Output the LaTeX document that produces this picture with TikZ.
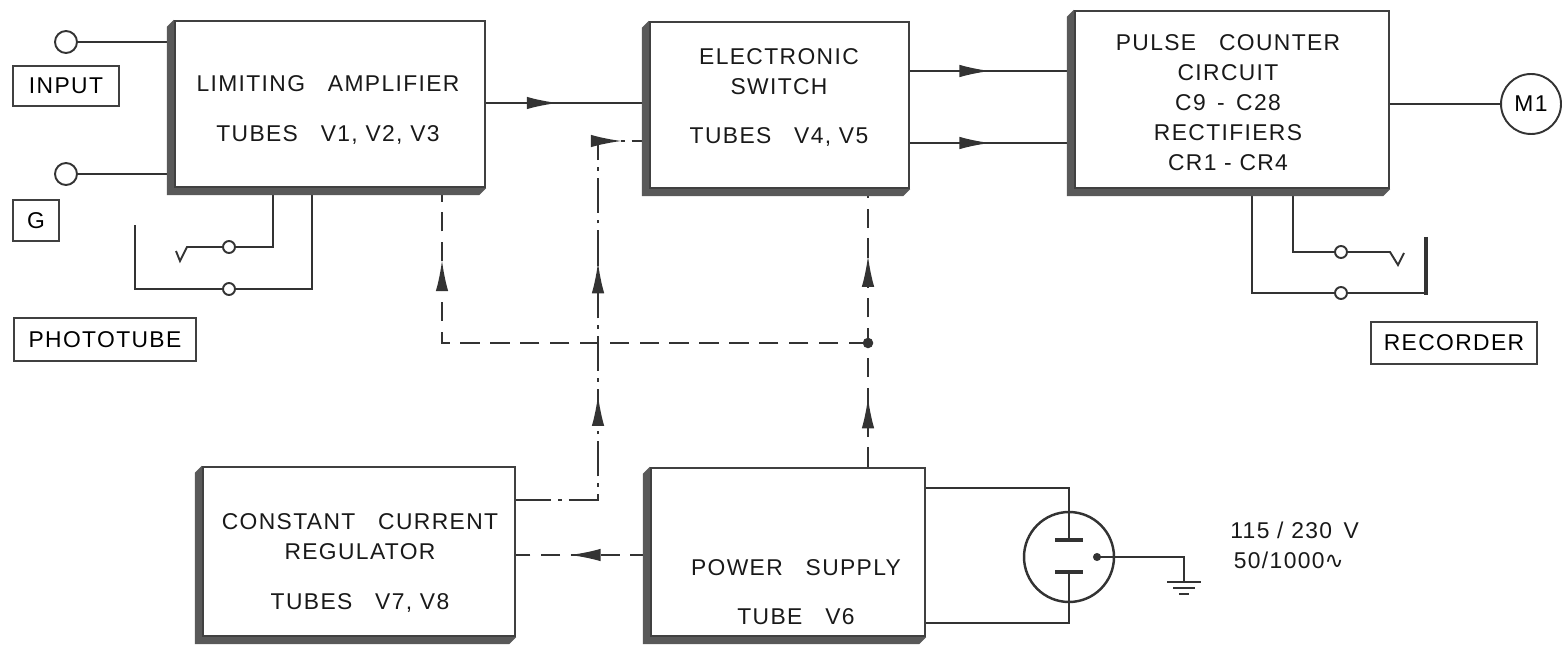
\documentclass[tikz,border=0pt]{standalone}
\usepackage{fontspec}
\setmainfont{Liberation Sans}[LetterSpace=6]
\newfontfamily\symfont{DejaVu Sans}
\usetikzlibrary{arrows.meta,calc,decorations.markings}

\tikzset{
  ink/.style={draw=black!80, line width=1.1pt},
  block/.style={rectangle, draw=black!75, line width=1.4pt, fill=white, inner sep=0pt},
  tag/.style={rectangle, draw=black!75, line width=1.2pt, inner sep=0pt, font=\fontsize{13}{15}\selectfont},
  txt/.style={align=center, inner sep=0pt, font=\fontsize{13}{17}\selectfont, text=black!90},
  term/.style={circle, draw=black!80, line width=1.1pt, fill=white, inner sep=0pt, minimum size=0.44cm},
  sterm/.style={term, minimum size=0.24cm},
  arrowat/.style={postaction={decorate, decoration={markings, mark=at position #1 with {\arrow{Latex[length=0.62cm,width=0.25cm]}}}}},
  feed/.style={ink, dash pattern=on 11pt off 6pt},
  ctrl/.style={ink, dash pattern=on 20pt off 4pt on 2pt off 4pt},
}

\begin{document}
\begin{tikzpicture}[x=0.02cm, y=-0.02cm]
\useasboundingbox (0,0) rectangle (1562,645);

% Blocks
\node[block, minimum width=6.2cm, minimum height=3.32cm] (amp) at (330,104) {};
\node[block, minimum width=5.18cm, minimum height=3.32cm] (sw) at (779.5,105) {};
\node[block, minimum width=6.28cm, minimum height=3.54cm] (cnt) at (1232,99.5) {};
\node[block, minimum width=6.24cm, minimum height=3.38cm] (reg) at (359,551.5) {};
\node[block, minimum width=5.48cm, minimum height=3.36cm] (ps) at (788,552) {};

% Block texts
\node[txt] (amptxt) at (328,110) {LIMITING\quad AMPLIFIER\\[11pt]TUBES\quad V1, V2, V3};
\node[txt] (swtxt) at (779,97.5) {ELECTRONIC\\SWITCH\\[11pt]TUBES\quad V4, V5};
\node[txt] (cnttxt) at (1228,102.5) {PULSE\quad COUNTER\\CIRCUIT\\C9\enspace -\enspace C28\\RECTIFIERS\\CR1 - CR4};
\node[txt] (regtxt) at (360,563) {CONSTANT\quad CURRENT\\REGULATOR\\[11pt]TUBES\quad V7, V8};
\node[txt] (pstxt) at (796,592) {POWER\quad SUPPLY\\[11pt]TUBE\quad V6};

% Terminals and tags
\node[term] (in1) at (66,42) {};
\node[term] (in2) at (66,174) {};
\node[tag, minimum width=2.12cm, minimum height=0.8cm] (input) at (66,86) {INPUT};
\node[tag, minimum width=0.92cm, minimum height=0.82cm] (gtag) at (36,220.5) {G};
\node[tag, minimum width=3.64cm, minimum height=0.86cm] (photo) at (105,339.5) {PHOTOTUBE};
\node[tag, minimum width=3.32cm, minimum height=0.84cm] (rec) at (1454,343) {RECORDER};
\node[term, minimum size=1.2cm, font=\fontsize{13}{15}\selectfont] (m1) at (1531,104) {M1};

\draw[ink] (in1) -- (in1 -| amp.west);
\draw[ink] (in2) -- (in2 -| amp.west);

% Phototube switch
\node[sterm] (pa) at (229,247) {};
\node[sterm] (pb) at (229,289) {};
\draw[ink] (amp.south -| 273,0) |- (pa);
\draw[ink] (pa) -- (187,247) -- (180,261) -- (176,251);
\draw[ink] (amp.south -| 312,0) |- (pb) -- (135,289) -- (135,225);

% Signal path
\draw[ink, arrowat=0.44] (amp.east |- 0,103) -- (sw.west |- 0,103);
\draw[ink, arrowat=0.49] (sw.east |- 0,71) -- (cnt.west |- 0,71);
\draw[ink, arrowat=0.49] (sw.east |- 0,143) -- (cnt.west |- 0,143);
\draw[ink] (cnt.east |- m1) -- (m1);

% Recorder switch
\node[sterm] (ra) at (1341,252) {};
\node[sterm] (rb) at (1341,293) {};
\draw[ink] (cnt.south -| 1293,0) |- (ra);
\draw[ink] (ra) -- (1390,252) -- (1398,265) -- (1404,253);
\draw[ink] (cnt.south -| 1252,0) |- (rb) -- (1426,293);
\draw[black!80, line width=2.2pt] (1426,237) -- (1426,295);

% Supply feed lines
\coordinate (jn) at (868,343);
\draw[feed, arrowat=0.25, arrowat=0.76] (ps.north -| jn) -- (sw.south -| jn);
\draw[feed, arrowat=0.876] (jn) -| (amp.south -| 442,0);
\fill[black!80] (jn) circle (3pt);
\draw[feed, arrowat=0.6] (ps.west |- 0,555) -- (reg.east |- 0,555);

% Regulator control line
\coordinate (bend) at (598,141);
\draw[ctrl, arrowat=0.38, arrowat=0.65, arrowat=0.945] (reg.east |- 0,500) -| (bend) -- (sw.west |- bend);

% Rectifier tube V6
\node[circle, draw=black!80, line width=1.4pt, minimum size=1.8cm, inner sep=0pt] (v6) at (1069,557) {};
\coordinate (pl1) at (1069,540);
\coordinate (pl2) at (1069,572);
\draw[ink] (ps.east |- 0,488) -| (pl1);
\draw[ink] (ps.east |- 0,623) -| (pl2);
\draw[black!80, line width=2.4pt] (pl1) ++(-14,0) -- ++(28,0) (pl2) ++(-14,0) -- ++(28,0);
\coordinate (cath) at (1097,557);
\coordinate (earth) at (1184,582);
\fill[black!80] (cath) circle (2.3pt);
\draw[ink] (cath) -| (earth);
\draw[ink] (earth) ++(-17,0) -- ++(34,0) (earth) ++(-11,6) -- ++(22,0) (earth) ++(-5,12) -- ++(10,0);
\node[txt, align=left, anchor=west] (mains) at (1230,545) {115 / 230\enspace V\\\hspace{2pt}50/1000{\symfont ∿}};

% Shadows
\foreach \b in {amp,sw,cnt,reg,ps}
  \fill[black!65] (\b.north west) -- ++(-7,7) -- ($(\b.south west)+(-7,7)$) -- ($(\b.south east)+(-7,7)$) -- (\b.south east) -- (\b.south west) -- cycle;
\end{tikzpicture}
\end{document}
